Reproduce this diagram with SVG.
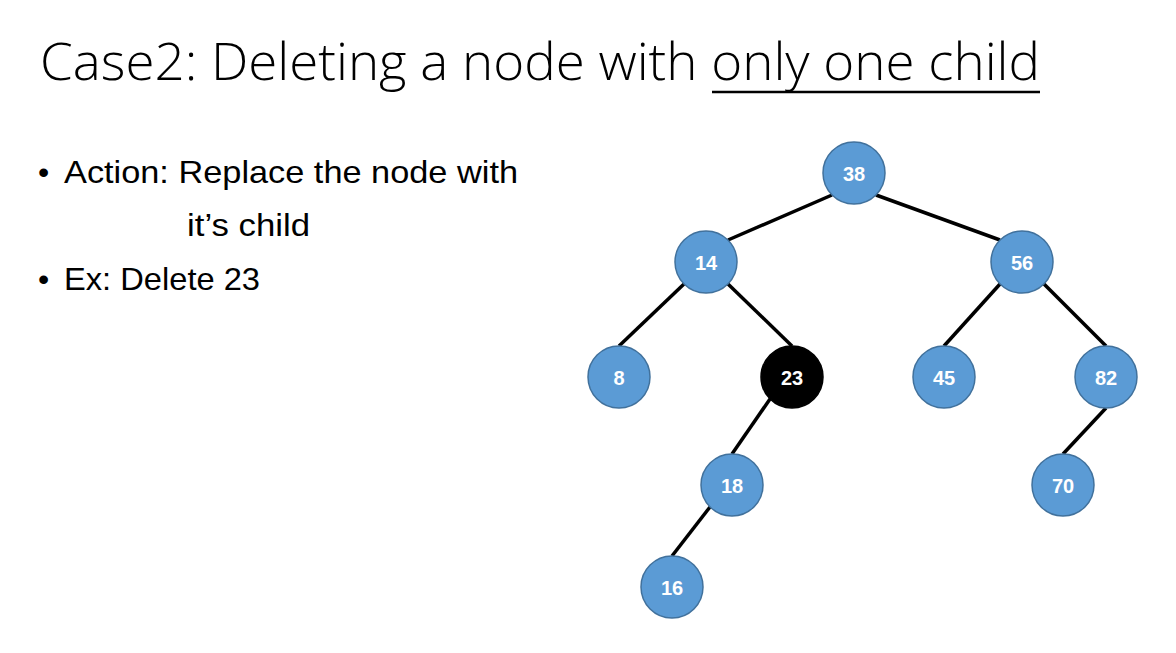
<svg xmlns="http://www.w3.org/2000/svg" width="1176" height="653" viewBox="0 0 1176 653">
<style>
.title{font-family:"Open Sans","Liberation Sans",Arial,sans-serif;font-weight:300;font-size:52px;fill:#000}
.body{font-family:"Liberation Sans",Arial,sans-serif;font-size:32px;fill:#000}
.node circle{fill:#5B9BD5;stroke:#41719C;stroke-width:1.5}
.node.del circle{fill:#000;stroke:#000}
.node text{font-family:"Liberation Sans",Arial,sans-serif;font-size:20px;font-weight:bold;fill:#fff;text-anchor:middle}
.edges line{stroke:#000;stroke-width:3.5}
</style>
<rect width="1176" height="653" fill="#fff"/>
<text class="title" x="40" y="80" textLength="1000" lengthAdjust="spacingAndGlyphs">Case2: Deleting a node with only one child</text>
<line x1="712" y1="92" x2="1040" y2="92" stroke="#000" stroke-width="2.5"/>
<text class="body" x="38" y="183">•</text>
<text class="body" x="64" y="183" textLength="454" lengthAdjust="spacingAndGlyphs">Action: Replace the node with</text>
<text class="body" x="187" y="236" textLength="123" lengthAdjust="spacingAndGlyphs">it’s child</text>
<text class="body" x="38" y="290">•</text>
<text class="body" x="64" y="290" textLength="196" lengthAdjust="spacingAndGlyphs">Ex: Delete 23</text>
<g class="edges">
<line x1="832" y1="195" x2="728" y2="240"/>
<line x1="876" y1="195" x2="1000" y2="240"/>
<line x1="684" y1="284" x2="619" y2="346"/>
<line x1="728" y1="284" x2="792" y2="346"/>
<line x1="1000" y1="284" x2="944" y2="346"/>
<line x1="1044" y1="284" x2="1106" y2="346"/>
<line x1="770" y1="399" x2="732" y2="454"/>
<line x1="710" y1="507" x2="672" y2="556"/>
<line x1="1106" y1="408" x2="1063" y2="454"/>
</g>
<g id="n38" class="node"><circle cx="854" cy="173" r="31"/><text x="854" y="180.5">38</text></g>
<g id="n14" class="node"><circle cx="706" cy="262" r="31"/><text x="706" y="269.5">14</text></g>
<g id="n56" class="node"><circle cx="1022" cy="262" r="31"/><text x="1022" y="269.5">56</text></g>
<g id="n8" class="node"><circle cx="619" cy="377" r="31"/><text x="619" y="384.5">8</text></g>
<g id="n23" class="node del"><circle cx="792" cy="377" r="31"/><text x="792" y="384.5">23</text></g>
<g id="n45" class="node"><circle cx="944" cy="377" r="31"/><text x="944" y="384.5">45</text></g>
<g id="n82" class="node"><circle cx="1106" cy="377" r="31"/><text x="1106" y="384.5">82</text></g>
<g id="n18" class="node"><circle cx="732" cy="485" r="31"/><text x="732" y="492.5">18</text></g>
<g id="n70" class="node"><circle cx="1063" cy="485" r="31"/><text x="1063" y="492.5">70</text></g>
<g id="n16" class="node"><circle cx="672" cy="587" r="31"/><text x="672" y="594.5">16</text></g>
</svg>
